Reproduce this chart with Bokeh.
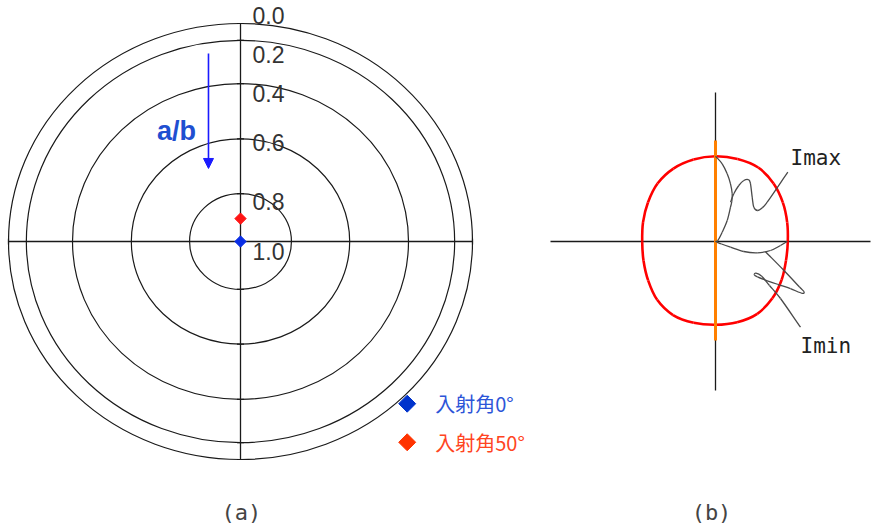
import numpy as np
from bokeh.plotting import figure
from bokeh.models import Range1d, Arrow, NormalHead
from bokeh.layouts import row
from bokeh.core.properties import value
from bokeh.embed import file_html
from bokeh.resources import INLINE

# ---------------- panel (a) data ----------------
ring_ab = [0.0, 0.2, 0.4, 0.6, 0.8]                 # rings drawn
tick_ab = [0.0, 0.2, 0.4, 0.6, 0.8, 1.0]            # a/b tick values
tick_labels = ["0.0", "0.2", "0.4", "0.6", "0.8", "1.0"]
series_names = ["入射角0°", "入射角50°"]
series_ab = [1.0, 0.9]                              # measured a/b per incidence angle
series_colors = ["#0a2ee6", "#ff1414"]
legend_marker_colors = ["#0033cc", "#ff3300"]
legend_text_colors = ["#2d55d8", "#ff4422"]

# ---------------- panel (b) data ----------------
red_theta_deg = [0, 15, 30, 45, 60, 75, 90, 105, 120, 135, 150, 165,
                 180, 195, 210, 225, 240, 255, 270, 285, 300, 315, 330, 345]
red_r = [72.3, 74.2, 77.8, 82.1, 85.4, 85.4, 85.3, 84.9, 84.2, 82.0, 78.0, 75.0,
         73.3, 74.5, 77.8, 82.5, 84.9, 84.1, 83.3, 83.6, 83.5, 80.4, 76.4, 73.0]
imax_x = [0, 6.7, 11.7, 15, 16.7, 16.3, 15, 11.7, 6.7, 2.3, 0]
imax_y = [85.3, 77.7, 67.7, 57.7, 47.7, 40, 34.3, 21, 9.3, 1, 0]
imin_x = [0, 6, 15, 28.3, 41.7, 55, 65, 71.7]
imin_y = [0, -2.5, -5.7, -10, -11.3, -9, -4, 0]
lead_max_x = [15, 18.3, 23.3, 28.3, 33.3, 35, 36.7, 38.3, 42.3, 46.7, 51.7, 72.3]
lead_max_y = [39.3, 47.7, 56, 61, 61.7, 57.7, 44.3, 34.3, 31, 33.7, 39.3, 69.3]
lead_min_x = [50, 68, 84, 88.5, 86.5, 75, 62, 50, 42, 38.8, 40.5, 46, 54, 65, 85]
lead_min_y = [-10.3, -28.5, -45.5, -50.3, -51.8, -47.2, -42.8, -38.6, -35.4, -33.2, -31.6, -34.5, -44, -57, -85.7]


def radial(ab):
    """radial scale of the a/b chart: a/b = 1 at the centre, 0 at the rim"""
    ab = np.asarray(ab, dtype=float)
    return (1 - ab ** 2) / (1 + ab ** 2)


def smooth_closed(p, xs, ys, **kw):
    """draw a closed curve through the points with Catmull-Rom segments (as Bezier glyphs)"""
    x = np.asarray(xs, float)
    y = np.asarray(ys, float)
    n = len(x)
    i = np.arange(n)
    xp, yp = x[(i - 1) % n], y[(i - 1) % n]
    x1, y1 = x[(i + 1) % n], y[(i + 1) % n]
    x2, y2 = x[(i + 2) % n], y[(i + 2) % n]
    p.bezier(x0=x, y0=y, x1=x1, y1=y1,
             cx0=x + (x1 - xp) / 6, cy0=y + (y1 - yp) / 6,
             cx1=x1 - (x2 - x) / 6, cy1=y1 - (y2 - y) / 6, **kw)


def smooth_open(p, xs, ys, **kw):
    x = np.asarray(xs, float)
    y = np.asarray(ys, float)
    xe = np.concatenate([[2 * x[0] - x[1]], x, [2 * x[-1] - x[-2]]])
    ye = np.concatenate([[2 * y[0] - y[1]], y, [2 * y[-1] - y[-2]]])
    k = np.arange(1, len(xe) - 2)
    p.bezier(x0=xe[k], y0=ye[k], x1=xe[k + 1], y1=ye[k + 1],
             cx0=xe[k] + (xe[k + 1] - xe[k - 1]) / 6, cy0=ye[k] + (ye[k + 1] - ye[k - 1]) / 6,
             cx1=xe[k + 1] - (xe[k + 2] - xe[k]) / 6, cy1=ye[k + 1] - (ye[k + 2] - ye[k]) / 6, **kw)


TXT = "#333333"
LINE = "#1a1a1a"

# ================= figure (a) =================
W1, H1 = 540, 528
XL = (-1.0345, 1.2931)
YL = (-1.3165, 1.1055)
px_y = H1 / (YL[1] - YL[0])
px_x = W1 / (XL[1] - XL[0])

p1 = figure(width=W1, height=H1, x_range=Range1d(*XL), y_range=Range1d(*YL),
            output_backend="svg", toolbar_location=None, min_border=0,
            x_axis_location=None, y_axis_location=None, outline_line_color=None,
            background_fill_color="white", border_fill_color="white")
p1.grid.visible = False

rr = radial(ring_ab)
p1.ellipse(x=0, y=0, width=2 * rr, height=2 * rr, fill_color=None,
           line_color=LINE, line_width=1.2)
p1.segment(x0=[-1, 0], y0=[0, -1], x1=[1, 0], y1=[0, 1], line_color=LINE, line_width=1.3)
p1.scatter(x=0, y=np.concatenate([rr, -rr]), marker="dash", size=7,
           line_color=LINE, line_width=1.2)
p1.scatter(x=[-1, 1], y=0, marker="dash", angle=np.pi / 2, size=6,
           line_color=LINE, line_width=1.2)

# tick labels along the vertical axis (offsets in px, positive = downwards)
label_off_px = [-8, 14, 10, 4, 8, 10]
ty = radial(tick_ab) - np.array(label_off_px) / px_y
p1.text(x=12 / px_x, y=ty, text=tick_labels, text_align="left", text_baseline="middle",
        text_font=value("Liberation Sans"), text_font_size=value("23px"), text_color=TXT)

# measured points
p1.scatter(x=0, y=radial(series_ab), marker="square", angle=np.pi / 4, size=8,
           fill_color=series_colors, line_color=series_colors)

# a/b arrow and label
BLUE = "#1a1aff"
p1.add_layout(Arrow(end=NormalHead(size=10, fill_color=BLUE, line_color=BLUE),
                    x_start=-0.138, y_start=0.862, x_end=-0.138, y_end=0.335,
                    line_color=BLUE, line_width=1.6))
p1.text(x=[-0.276], y=[0.505], text=["a/b"], text_align="center", text_baseline="middle",
        text_font=value("Liberation Sans"), text_font_style="bold",
        text_font_size=value("27px"), text_color="#1f4fd1")

# legend
leg_x = 0.7185
leg_y = np.array([-0.744, -0.921])
p1.scatter(x=leg_x, y=leg_y, marker="square", angle=np.pi / 4, size=12,
           fill_color=legend_marker_colors, line_color=legend_marker_colors)
p1.text(x=leg_x + 28 / px_x, y=leg_y, text=series_names, text_align="left",
        text_baseline="middle", text_font=value("Noto Sans CJK JP"),
        text_font_size=value("20px"), text_color=legend_text_colors)

p1.text(x=[0.004], y=[-1.243], text=["(a)"], text_align="center", text_baseline="middle",
        text_font=value("DejaVu Sans Mono"), text_font_size=value("22px"), text_color="#444444")

# ================= figure (b) =================
W2, H2 = 331, 528
p2 = figure(width=W2, height=H2, x_range=Range1d(-175, 156), y_range=Range1d(-287, 241),
            output_backend="svg", toolbar_location=None, min_border=0,
            x_axis_location=None, y_axis_location=None, outline_line_color=None,
            background_fill_color="white", border_fill_color="white")
p2.grid.visible = False

p2.segment(x0=[-165, 0], y0=[0, -149], x1=[155, 0], y1=[0, 149], line_color=LINE, line_width=1.3)

th = np.radians(red_theta_deg)
r = np.array(red_r)
smooth_closed(p2, r * np.cos(th), r * np.sin(th), line_color="#ff0000", line_width=2.6)
p2.segment(x0=[0], y0=[-99], x1=[0], y1=[101], line_color="#ff8000", line_width=3)

GRAY = "#4a4a4a"
smooth_open(p2, imax_x, imax_y, line_color=GRAY, line_width=1.3)
smooth_open(p2, imin_x, imin_y, line_color=GRAY, line_width=1.3)
smooth_open(p2, lead_max_x, lead_max_y, line_color=GRAY, line_width=1.3)
smooth_open(p2, lead_min_x, lead_min_y, line_color=GRAY, line_width=1.3)

p2.text(x=[75, 85], y=[83.5, -104], text=["Imax", "Imin"], text_align="left",
        text_baseline="middle", text_font=value("DejaVu Sans Mono"),
        text_font_size=value("21px"), text_color="#222222")
p2.text(x=[-4], y=[-271], text=["(b)"], text_align="center", text_baseline="middle",
        text_font=value("DejaVu Sans Mono"), text_font_size=value("22px"), text_color="#444444")

layout = row(p1, p2)
open("out.html", "w").write(file_html(layout, INLINE))
